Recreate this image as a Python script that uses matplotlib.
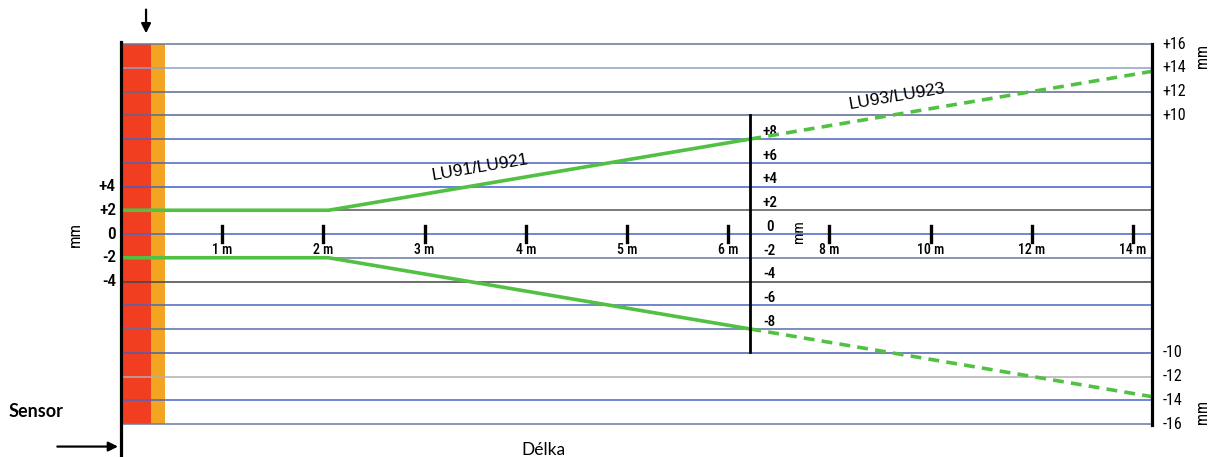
import matplotlib
matplotlib.use('Agg')
import matplotlib.pyplot as plt
from matplotlib.patches import Rectangle

# grid rows (mm), bottom to top
grid_mm = [-16, -14, -12, -10, -8, -6, -4, -2, 0, 2, 4, 6, 8, 10, 12, 14, 16]
grid_colors = ['#6a7aa0', '#4a66c8', '#b0b0b0', '#4a5fb0', '#5a6fa8', '#4a66c0', '#444444',
               '#6a7aa0', '#4a66c8', '#555555', '#3f5fd0', '#4c63b8', '#4c63b8', '#59698f',
               '#5d6a8c', '#8ea3c8', '#6c7494']

# distance ticks (drawing units) and their labels
tick_pos = [1, 2, 3, 4, 5, 6, 7, 8, 9, 10]
tick_labels = ['1 m', '2 m', '3 m', '4 m', '5 m', '6 m', '8 m', '10 m', '12 m', '14 m']

left_vals = [4, 2, 0, -2, -4]
mid_vals = [8, 6, 4, 2, 0, -2, -4, -6, -8]
right_vals = [16, 14, 12, 10, -10, -12, -14, -16]

# beam envelope: solid part up to the mid line, dashed beyond
solid_x = [0, 2.05, 6.22]
upper_solid = [2, 2, 8]
lower_solid = [-2, -2, -8]
dash_x = [6.22, 10.19]
upper_dash = [8, 13.7]
lower_dash = [-8, -13.7]

x_end = 10.19
x_mid = 6.22
green = '#52c043'
narrow = ['Roboto Condensed', 'DejaVu Sans']


def fmt(v):
    return ('+%d' % v) if v > 0 else '%d' % v


fig = plt.figure(figsize=(12.13, 4.57), dpi=100)
ax = fig.add_axes([0.0998, 0.0722, 0.85, 0.8315])
ax.set_xlim(0, x_end)
ax.set_ylim(-16, 16)
ax.axis('off')

# sensor bands
ax.add_patch(Rectangle((0, -16), 0.296, 32, color='#f23e20', zorder=1, lw=0))
ax.add_patch(Rectangle((0.296, -16), 0.139, 32, color='#f3a522', zorder=1, lw=0))

for y, c in zip(grid_mm, grid_colors):
    ax.plot([0, x_end], [y, y], color=c, lw=1.1, zorder=2, clip_on=False)

# vertical frame lines
ax.plot([0, 0], [16.2, -18.7], color='black', lw=2.3, zorder=5, clip_on=False)
ax.plot([x_end, x_end], [16, -16.1], color='black', lw=2.3, zorder=5, clip_on=False)
ax.plot([x_mid, x_mid], [10, -9.9], color='black', lw=2.0, zorder=5, clip_on=False)

# beam lines
ax.plot(solid_x, upper_solid, color=green, lw=2.6, zorder=4, solid_capstyle='butt')
ax.plot(solid_x, lower_solid, color=green, lw=2.6, zorder=4, solid_capstyle='butt')
ax.plot(dash_x, upper_dash, color=green, lw=2.6, zorder=4, dashes=(3, 2), clip_on=False)
ax.plot(dash_x, lower_dash, color=green, lw=2.6, zorder=4, dashes=(3, 2), clip_on=False)

# distance ticks
for p, lab in zip(tick_pos, tick_labels):
    ax.plot([p, p], [-0.65, 0.7], color='black', lw=2.4, zorder=5)
    ax.text(p, -0.72, lab, ha='center', va='top', fontsize=10, family=narrow,
            fontweight='medium')

# left scale
for v in left_vals:
    ax.text(-0.05, v, fmt(v), ha='right', va='center',
            fontsize=12.5, family=narrow, fontweight='medium')
ax.text(-0.45, 0, 'mm', rotation=90, ha='center', va='center', fontsize=12, family=narrow)

# middle scale
for v in mid_vals:
    ax.text(6.41, v + 0.6, fmt(v), ha='center', va='center',
            fontsize=11, family=narrow, fontweight='medium')
ax.text(6.70, 0.2, 'mm', rotation=90, ha='center', va='center', fontsize=11, family=narrow)

# right scale
for v in right_vals:
    ax.text(10.29, v, fmt(v), ha='left', va='center',
            fontsize=11.5, family=narrow)
ax.text(10.69, 15.0, 'mm', rotation=90, ha='center', va='center', fontsize=11.5, family=narrow)
ax.text(10.69, -15.0, 'mm', rotation=90, ha='center', va='center', fontsize=11.5, family=narrow)

# beam labels
ax.text(3.55, 5.65, 'LU91/LU921', rotation=9.6, ha='center', va='center',
        fontsize=12.5, family='Liberation Sans', rotation_mode='anchor')
ax.text(7.67, 11.6, 'LU93/LU923', rotation=9.6, ha='center', va='center',
        fontsize=12.5, family='Liberation Sans', rotation_mode='anchor')

# arrows
ax.annotate('', xy=(0.247, 16.9), xytext=(0.247, 18.9), annotation_clip=False,
            arrowprops=dict(arrowstyle='-|>', color='black', lw=1.6, mutation_scale=14,
                            shrinkA=0, shrinkB=0))
ax.annotate('', xy=(-0.03, -17.9), xytext=(-0.63, -17.9), annotation_clip=False,
            arrowprops=dict(arrowstyle='-|>', color='black', lw=1.6, mutation_scale=14,
                            shrinkA=0, shrinkB=0))

ax.text(-0.84, -14.95, 'Sensor', ha='center', va='center', fontsize=13,
        fontweight='bold', family='Lato')
ax.text(4.17, -18.2, 'Délka', ha='center', va='center', fontsize=12.5, family='Lato')

fig.savefig('out.png', dpi=100)
